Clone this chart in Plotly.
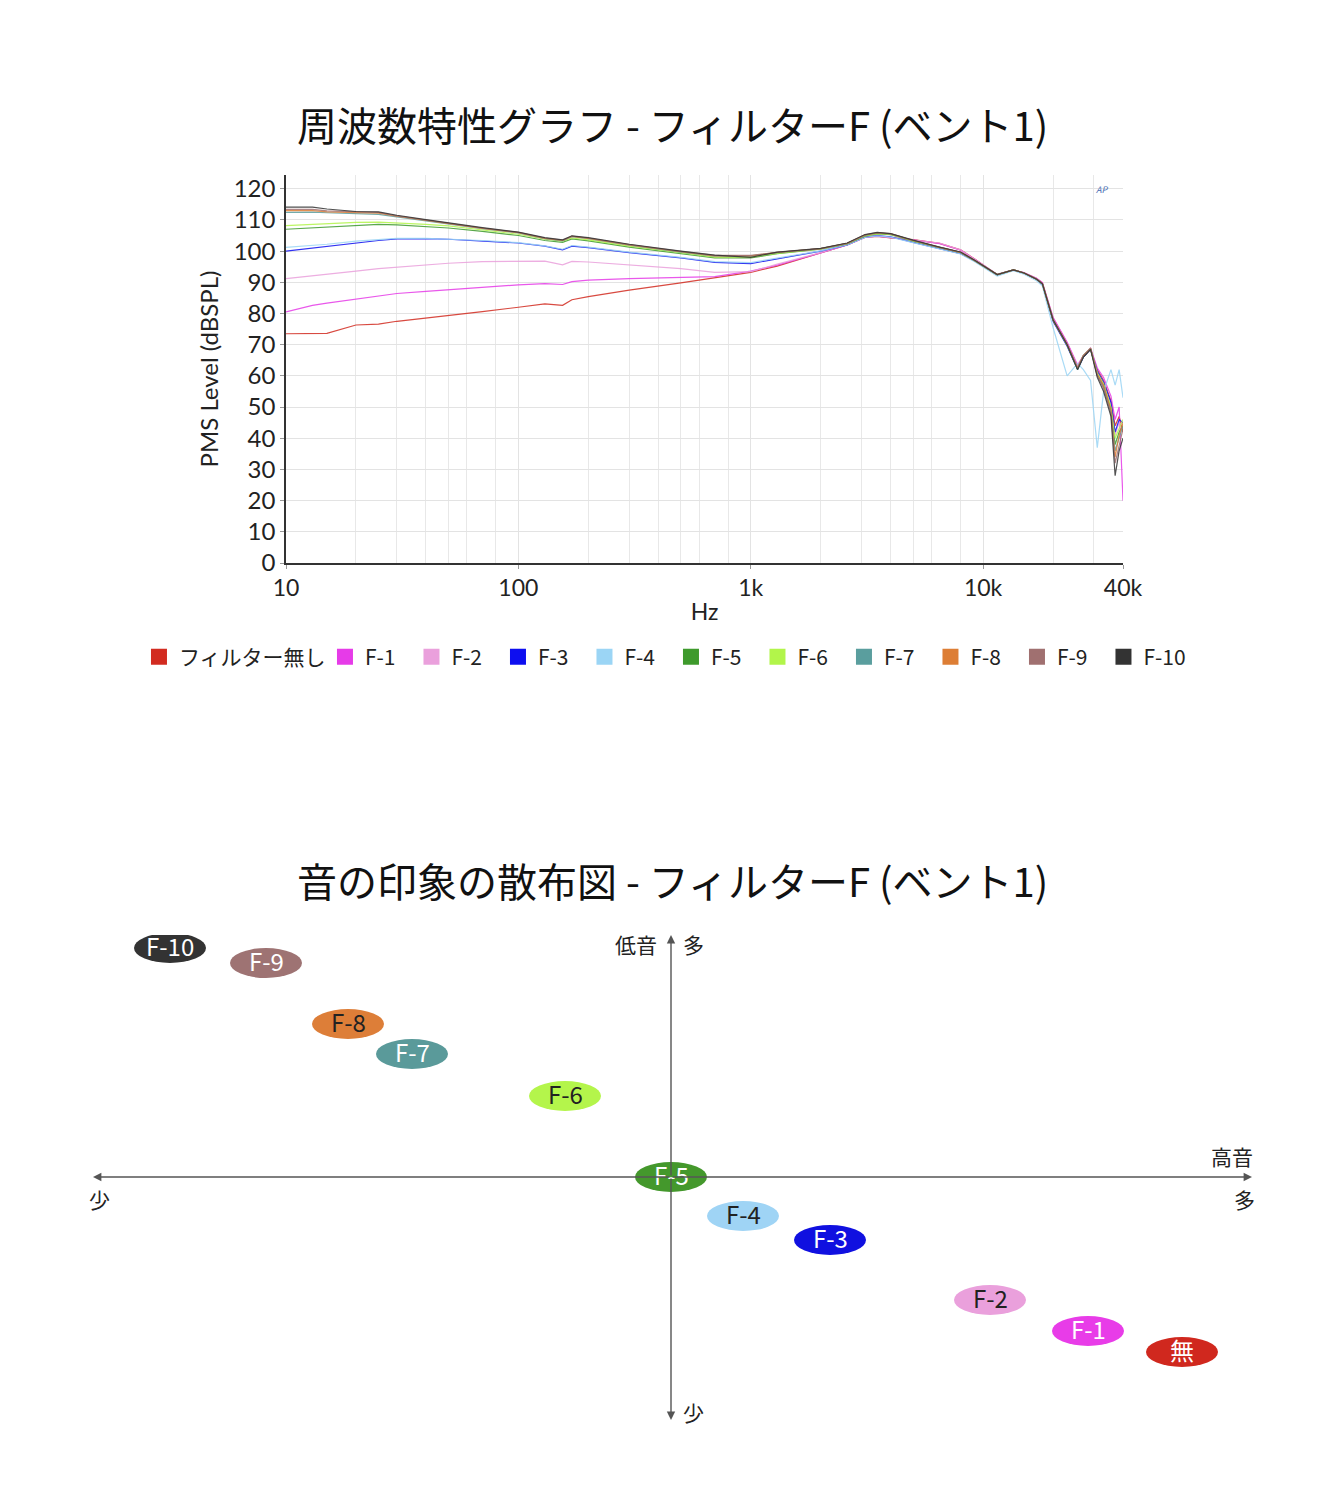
import plotly.graph_objects as go

# frequency response
FREQ = [10, 13, 15, 20, 25, 30, 40, 50, 70, 100, 130, 155, 170, 200, 300, 500, 700, 1000,
        1300, 2000, 2600, 3100, 3500, 4000, 5000, 6500, 8000, 9200, 11500, 13500, 15000,
        17000, 18000, 20000, 23000, 25500, 27000, 29000, 31000, 33000, 35500, 37000, 38500, 40000]

NAMES = ["フィルター無し", "F-1", "F-2", "F-3", "F-4", "F-5", "F-6", "F-7", "F-8", "F-9", "F-10"]
COLORS = ["#d22b20", "#e63be8", "#eaa0dc", "#0d0ef0", "#9bd5f5", "#3e9a2c",
          "#b2f54a", "#5a9e9e", "#dd7e35", "#a07070", "#333333"]

LEVEL_NONE = [73.5, 73.5, 73.6, 76.3, 76.6, 77.5, 78.5, 79.2, 80.6, 82.0, 83.1, 82.6, 84.4, 85.4, 87.5, 89.8, 91.5, 93.2,
              95.2, 99.3, 102.0, 104.4, 104.7, 104.2, 103.7, 102.5, 100.4, 97.5, 92.4, 93.9, 93.0, 91.2, 89.8,
              78.5, 70.5, 63.0, 66.0, 68.5, 62.0, 58.5, 52.0, 44.0, 47.0, 42.0]
LEVEL_F1 = [80.5, 82.6, 83.3, 84.6, 85.7, 86.4, 87.1, 87.6, 88.5, 89.2, 89.6, 89.3, 90.2, 90.7, 91.2, 91.5, 91.8, 93.6,
            95.5, 99.4, 102.0, 104.4, 104.8, 104.3, 103.6, 102.4, 100.3, 97.4, 92.5, 94.0, 93.1, 91.3, 89.9,
            78.8, 70.8, 63.5, 66.5, 69.0, 62.5, 59.5, 53.5, 46.0, 50.0, 20.0]
LEVEL_F2 = [91.2, 92.2, 92.7, 93.6, 94.4, 94.9, 95.6, 96.1, 96.6, 96.8, 96.8, 95.6, 96.7, 96.5, 95.6, 94.4, 93.2, 93.4,
            95.8, 99.5, 102.1, 104.5, 104.9, 104.4, 103.7, 102.6, 100.4, 97.5, 92.6, 94.0, 93.0, 91.1, 89.6,
            78.2, 70.2, 63.0, 66.3, 68.7, 61.5, 58.0, 51.0, 41.0, 45.0, 44.0]
LEVEL_F3 = [100.0, 101.0, 101.6, 102.7, 103.4, 103.9, 104.0, 103.8, 103.3, 102.6, 101.6, 100.4, 101.6, 101.1, 99.5, 97.8, 96.4, 96.0,
            97.5, 100.0, 102.0, 104.5, 105.0, 104.6, 102.8, 100.9, 99.2, 96.8, 92.3, 93.9, 92.9, 90.9, 89.3,
            77.5, 69.5, 62.0, 66.0, 68.5, 61.5, 58.0, 51.5, 42.0, 46.0, 45.0]
LEVEL_F4 = [101.2, 101.8, 102.2, 103.2, 103.8, 104.1, 104.1, 103.9, 103.4, 102.7, 101.7, 100.6, 101.8, 101.3, 99.7, 98.0, 96.6, 96.3,
            97.7, 100.1, 102.0, 104.4, 104.9, 104.5, 102.7, 100.8, 99.1, 96.6, 92.0, 93.7, 92.6, 90.5, 88.8,
            75.5, 60.0, 64.0, 62.0, 58.5, 37.0, 55.0, 62.0, 57.0, 62.0, 53.0]
LEVEL_F5 = [107.0, 107.5, 107.8, 108.2, 108.6, 108.4, 107.9, 107.4, 106.3, 105.0, 103.4, 102.8, 103.9, 103.3, 101.3, 99.2, 97.8, 97.8,
            99.2, 100.6, 102.3, 104.8, 105.5, 105.3, 103.2, 101.1, 99.5, 96.9, 92.4, 94.0, 93.0, 91.0, 89.5,
            77.8, 69.8, 62.0, 66.2, 68.6, 60.5, 57.0, 49.5, 38.0, 42.0, 44.0]
LEVEL_F6 = [108.2, 108.6, 108.9, 109.2, 109.3, 109.1, 108.6, 108.1, 106.8, 105.4, 103.8, 103.2, 104.2, 103.6, 101.6, 99.6, 98.1, 98.1,
            99.3, 100.7, 102.4, 104.9, 105.6, 105.4, 103.3, 101.2, 99.6, 97.0, 92.5, 94.0, 93.0, 91.0, 89.5,
            78.0, 70.0, 62.5, 66.5, 68.8, 61.0, 57.5, 50.0, 40.0, 43.0, 46.0]
LEVEL_F7 = [112.4, 112.5, 112.3, 112.0, 111.8, 111.0, 109.7, 108.7, 107.2, 105.8, 104.0, 103.3, 104.6, 104.0, 101.9, 99.7, 98.4, 98.4,
            99.5, 100.8, 102.5, 105.0, 105.8, 105.5, 103.4, 101.2, 99.6, 97.0, 92.5, 94.0, 93.0, 91.0, 89.5,
            78.0, 70.0, 62.5, 66.5, 68.8, 60.0, 56.5, 48.5, 36.0, 40.0, 44.0]
LEVEL_F8 = [113.0, 113.0, 112.6, 112.3, 112.2, 111.2, 109.8, 108.8, 107.3, 105.9, 104.1, 103.4, 104.7, 104.1, 102.0, 99.8, 98.5, 98.5,
            99.6, 100.8, 102.5, 105.1, 105.8, 105.5, 103.4, 101.2, 99.6, 97.0, 92.5, 94.0, 93.0, 91.0, 89.5,
            78.0, 70.0, 62.5, 66.5, 68.8, 60.5, 57.0, 49.0, 34.0, 41.0, 45.0]
LEVEL_F9 = [113.4, 113.4, 112.9, 112.5, 112.4, 111.3, 109.9, 108.9, 107.4, 106.0, 104.2, 103.5, 104.8, 104.2, 102.1, 99.9, 98.6, 98.6,
            99.6, 100.8, 102.5, 105.2, 105.9, 105.6, 103.4, 101.2, 99.6, 97.0, 92.5, 94.0, 93.0, 91.0, 89.5,
            78.0, 70.0, 62.5, 66.5, 68.8, 60.0, 56.0, 48.0, 32.0, 38.0, 43.0]
LEVEL_F10 = [114.1, 114.1, 113.5, 112.7, 112.6, 111.5, 110.1, 109.0, 107.5, 106.1, 104.3, 103.6, 104.9, 104.3, 102.2, 100.0, 98.7, 98.0,
             99.7, 100.9, 102.6, 105.3, 106.0, 105.6, 103.5, 101.3, 99.7, 97.1, 92.5, 94.0, 93.0, 91.0, 89.5,
             78.0, 70.0, 62.0, 66.0, 68.5, 59.5, 55.0, 47.0, 28.0, 36.0, 40.0]
LEVELS = [LEVEL_NONE, LEVEL_F1, LEVEL_F2, LEVEL_F3, LEVEL_F4, LEVEL_F5,
          LEVEL_F6, LEVEL_F7, LEVEL_F8, LEVEL_F9, LEVEL_F10]

X_TICKS = [10, 100, 1000, 10000, 40000]
X_TICKTEXT = ["10", "100", "1k", "10k", "40k"]
X_MINOR = [20, 30, 40, 50, 60, 80, 200, 300, 400, 500, 600, 800,
           2000, 3000, 4000, 5000, 6000, 8000, 20000, 30000]
Y_TICKS = list(range(0, 121, 10))

# impression map: treble amount (x) vs bass amount (y)
IMP_LABELS = ["F-10", "F-9", "F-8", "F-7", "F-6", "F-5", "F-4", "F-3", "F-2", "F-1", "無"]
IMP_TREBLE = [-5.01, -4.05, -3.23, -2.59, -1.06, 0.0, 0.72, 1.59, 3.19, 4.17, 5.11]
IMP_BASS = [2.29, 2.14, 1.53, 1.23, 0.81, 0.0, -0.39, -0.63, -1.23, -1.54, -1.75]
IMP_COLORS = ["#333333", "#9e7373", "#dd7e38", "#5a9a9a", "#b4f54b", "#44982c",
              "#9fd4f5", "#1010e0", "#eaa0dc", "#e83ce8", "#d0281e"]
IMP_TEXT = ["white", "white", "#222222", "white", "#222222", "white",
            "#222222", "white", "#222222", "white", "white"]

FONT = "Noto Sans CJK JP"
TXT = "#222222"
W, H = 1344, 1512

fig = go.Figure()

for i, (name, color, lev) in enumerate(zip(NAMES, COLORS, LEVELS)):
    fig.add_trace(go.Scatter(x=FREQ, y=lev, mode="lines", name=name,
                             line=dict(color=color, width=1.2), opacity=0.85,
                             showlegend=False, xaxis="x", yaxis="y"))
    # square swatch for the legend
    fig.add_trace(go.Scatter(x=[None], y=[None], mode="markers", name=name,
                             marker=dict(symbol="square", size=18, color=color),
                             legendwidth=141 if i == 0 else 41.5,
                             xaxis="x", yaxis="y"))

# ellipses + labels on the impression map
shapes = []
annos = []
for tx, bs, c, lab, tc in zip(IMP_TREBLE, IMP_BASS, IMP_COLORS, IMP_LABELS, IMP_TEXT):
    shapes.append(dict(type="circle", xref="x2", yref="y2",
                       x0=tx - 0.36, x1=tx + 0.36, y0=bs - 0.15, y1=bs + 0.15,
                       fillcolor=c, line=dict(width=0), layer="below"))
    annos.append(dict(text=lab, x=tx, y=bs, xref="x2", yref="y2", showarrow=False,
                      yshift=3, font=dict(family=FONT, size=24, color=tc)))

# titles
annos.append(dict(text="周波数特性グラフ - フィルターF (ベント1)", x=0.5, y=1 - 124 / H,
                  xref="paper", yref="paper", showarrow=False, yanchor="middle",
                  font=dict(family=FONT, size=40, color="#111111")))
annos.append(dict(text="音の印象の散布図 - フィルターF (ベント1)", x=0.5, y=1 - 880 / H,
                  xref="paper", yref="paper", showarrow=False, yanchor="middle",
                  font=dict(family=FONT, size=40, color="#111111")))
annos.append(dict(text="<i>AP</i>", x=0.985, y=0.985, xref="x domain", yref="y domain",
                  showarrow=False, font=dict(size=9, color="#4a6fb5")))

# cross axes with arrows
for ex, ey in [(5.81, 0), (-5.78, 0), (0, 2.42), (0, -2.43)]:
    annos.append(dict(x=ex, y=ey, ax=0, ay=0, xref="x2", yref="y2", axref="x2", ayref="y2",
                      text="", showarrow=True, arrowhead=2, arrowsize=1.2, arrowwidth=1.4,
                      arrowcolor="#555555"))
for t, x, y in [("低音", -0.35, 2.33), ("多", 0.22, 2.33), ("少", 0.22, -2.35),
                ("高音", 5.61, 0.21), ("多", 5.73, -0.22), ("少", -5.72, -0.22)]:
    annos.append(dict(text=t, x=x, y=y, xref="x2", yref="y2", showarrow=False,
                      font=dict(family=FONT, size=21, color=TXT)))

fig.update_layout(
    width=W, height=H,
    margin=dict(l=0, r=0, t=0, b=0),
    paper_bgcolor="white", plot_bgcolor="white",
    font=dict(family=FONT, color=TXT),
    shapes=shapes, annotations=annos,
    xaxis=dict(type="log", range=[1, 4.60206], domain=[286 / W, 1123 / W],
               anchor="y", tickvals=X_TICKS, ticktext=X_TICKTEXT, automargin=False,
               showgrid=True, gridcolor="#e3e3e3", gridwidth=1,
               minor=dict(tickvals=X_MINOR, showgrid=True, gridcolor="#e8e8e8", ticks=""),
               showline=True, linecolor="#333333", linewidth=1.5,
               ticks="outside", ticklen=4, tickcolor="#999999",
               tickfont=dict(family="Lato", size=23, color=TXT),
               title=dict(text="Hz", font=dict(family="Lato", size=23, color=TXT), standoff=4),
               zeroline=False),
    yaxis=dict(range=[0, 124.4], domain=[1 - 563 / H, 1 - 175 / H], anchor="x",
               tickvals=Y_TICKS, automargin=False,
               showgrid=True, gridcolor="#e3e3e3", gridwidth=1,
               showline=True, linecolor="#333333", linewidth=1.5,
               ticks="outside", ticklen=4, tickcolor="#999999",
               tickfont=dict(family="Lato", size=24, color=TXT),
               title=dict(text="PMS Level (dBSPL)", font=dict(family="Lato", size=24, color=TXT),
                          standoff=8),
               zeroline=False),
    xaxis2=dict(range=[-5.78, 5.81], domain=[93 / W, 1252 / W], anchor="y2",
                visible=False, automargin=False),
    yaxis2=dict(range=[-2.43, 2.42], domain=[1 - 1420 / H, 1 - 935 / H], anchor="x2",
                visible=False, automargin=False),
    legend=dict(orientation="h", x=0.4944, xanchor="center", y=1 - 657 / H, yanchor="middle",
                font=dict(family=FONT, size=21, color=TXT), itemwidth=30,
                tracegroupgap=0, bgcolor="rgba(0,0,0,0)"),
)

# the page body keeps no margin, so the figure fills the window exactly
fig.write_html("out.html", config={"displayModeBar": False},
               post_script="document.body.style.margin='0';document.body.style.overflow='hidden';")
